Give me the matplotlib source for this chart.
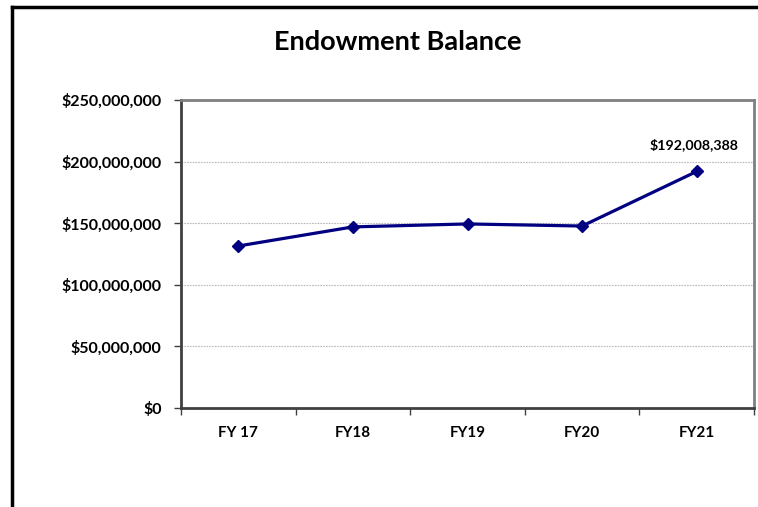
import matplotlib
matplotlib.use("Agg")
import matplotlib.pyplot as plt
from matplotlib.lines import Line2D
from matplotlib.ticker import FuncFormatter, FixedLocator

categories = ["FY 17", "FY18", "FY19", "FY20", "FY21"]
balances = [131500000, 147000000, 149400000, 147700000, 192008388]
yticks = [0, 50000000, 100000000, 150000000, 200000000, 250000000]

plt.rcParams['font.family'] = ['Lato', 'DejaVu Sans']

fig = plt.figure(figsize=(7.58, 5.07), dpi=100)
ax = fig.add_axes([181/758, 1-408/507, (754-181)/758, (408-100)/507])

x = list(range(len(categories)))
ax.plot(x, balances, color='#000080', lw=2.3, marker='D', markersize=6.5, zorder=3)

ax.set_xlim(-0.5, len(categories)-0.5)
ax.set_ylim(0, 250000000)
ax.set_yticks(yticks)
ax.yaxis.set_major_formatter(FuncFormatter(lambda v, p: "${:,.0f}".format(v)))
ax.set_xticks(x)
ax.set_xticklabels(categories)
ax.xaxis.set_minor_locator(FixedLocator([i - 0.5 for i in range(len(categories)+1)]))
ax.tick_params(axis='x', which='major', length=0, pad=13)
ax.tick_params(axis='x', which='minor', length=5, width=1, color='#404040', direction='out')
ax.tick_params(axis='y', length=5, width=1, color='#404040', direction='out', pad=9)
for lab in ax.get_yticklabels():
    lab.set_fontweight('bold')
    lab.set_fontsize(11.5)
for lab in ax.get_xticklabels():
    lab.set_fontweight('bold')
    lab.set_fontsize(11)

for v in yticks[1:-1]:
    ax.axhline(v, color='#b8b8b8', lw=0.8, ls=(0, (1.5, 1)), zorder=1)

ax.spines['left'].set_color('#404040')
ax.spines['left'].set_linewidth(2)
ax.spines['bottom'].set_color('#404040')
ax.spines['bottom'].set_linewidth(2)
ax.spines['top'].set_color('#808080')
ax.spines['top'].set_linewidth(2)
ax.spines['right'].set_color('#808080')
ax.spines['right'].set_linewidth(2)

ax.annotate("${:,.0f}".format(balances[-1]), (x[-1], balances[-1]), xytext=(-2, 15),
            textcoords='offset points', ha='center', va='bottom', fontsize=10.3, fontweight='bold')

fig.text(398/758, 1-42/507, "Endowment Balance", ha='center', va='center',
         fontsize=19.5, fontweight='bold')

fig.add_artist(Line2D([12/758, 12/758], [0, 1-7/507], transform=fig.transFigure, color='black', lw=2.5))
fig.add_artist(Line2D([12/758, 1], [1-7/507, 1-7/507], transform=fig.transFigure, color='black', lw=2.5))

fig.savefig("out.png", dpi=100)
